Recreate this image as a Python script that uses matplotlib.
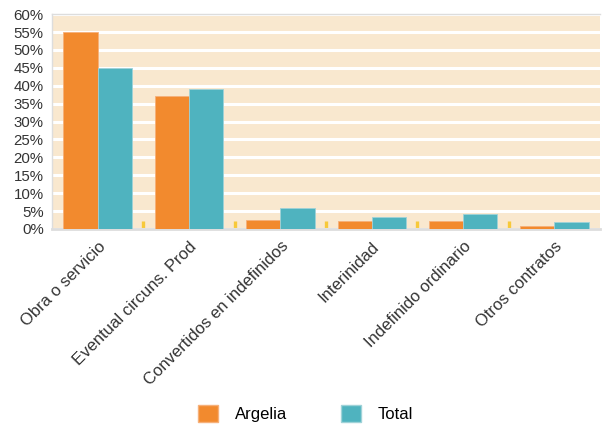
import numpy as np
import matplotlib.pyplot as plt
from matplotlib.patches import Patch

plt.rcParams['font.family'] = ['Liberation Sans', 'DejaVu Sans']

categorias = ['Obra o servicio', 'Eventual circuns. Prod', 'Convertidos en indefinidos',
              'Interinidad', 'Indefinido ordinario', 'Otros contratos']
argelia = [55.0, 37.1, 2.4, 2.3, 2.3, 0.75]
total = [45.0, 39.1, 5.95, 3.4, 4.2, 1.9]
yticks = list(range(0, 61, 5))

c_arg = '#f28a2e'
c_tot = '#4fb3bf'

fig = plt.figure(figsize=(6.05, 4.28), dpi=100)
ax = fig.add_axes([0.086, 0.465, 0.906, 0.502])
ax.set_facecolor('#f9e8cf')

x = np.arange(len(categorias))
w = 0.375
ax.bar(x - w / 2, argelia, w, color=c_arg, edgecolor='#f6b07a', linewidth=0.6, zorder=3)
ax.bar(x + w / 2, total, w, color=c_tot, edgecolor='#9fd2d8', linewidth=0.6, zorder=3)

ax.set_xlim(-0.5, len(categorias) - 0.5)
ax.set_ylim(0, 60)
ax.set_yticks(yticks)
ax.set_yticklabels([f'{v}%' for v in yticks], fontsize=10.8, color='#333333')
ax.yaxis.grid(True, color='white', linewidth=2.2, zorder=1)
ax.set_axisbelow(True)

ax.set_xticks(x)
ax.set_xticklabels(categorias, rotation=45, ha='right', rotation_mode='anchor',
                   fontsize=12, color='#333333')
ax.set_xticks(x[:-1] + 0.5, minor=True)
ax.tick_params(axis='x', which='major', length=0, pad=7)
ax.tick_params(axis='x', which='minor', direction='in', length=6, width=2.4,
               color='#f7c93a')
ax.tick_params(axis='y', length=0, pad=6)

for s in ax.spines.values():
    s.set_color('#dddddd')
    s.set_linewidth(1)
ax.spines['bottom'].set_linewidth(2)
ax.spines['right'].set_visible(False)

handles = [Patch(facecolor=c_arg, edgecolor='#f6b07a'), Patch(facecolor=c_tot, edgecolor='#9fd2d8')]
fig.legend(handles, ['Argelia', 'Total'], loc='center', bbox_to_anchor=(0.505, 0.033),
           ncol=2, frameon=False, fontsize=12, handlelength=1.2, handleheight=1.2,
           handletextpad=1.0, columnspacing=3.2)

fig.savefig('out.png', dpi=100)
